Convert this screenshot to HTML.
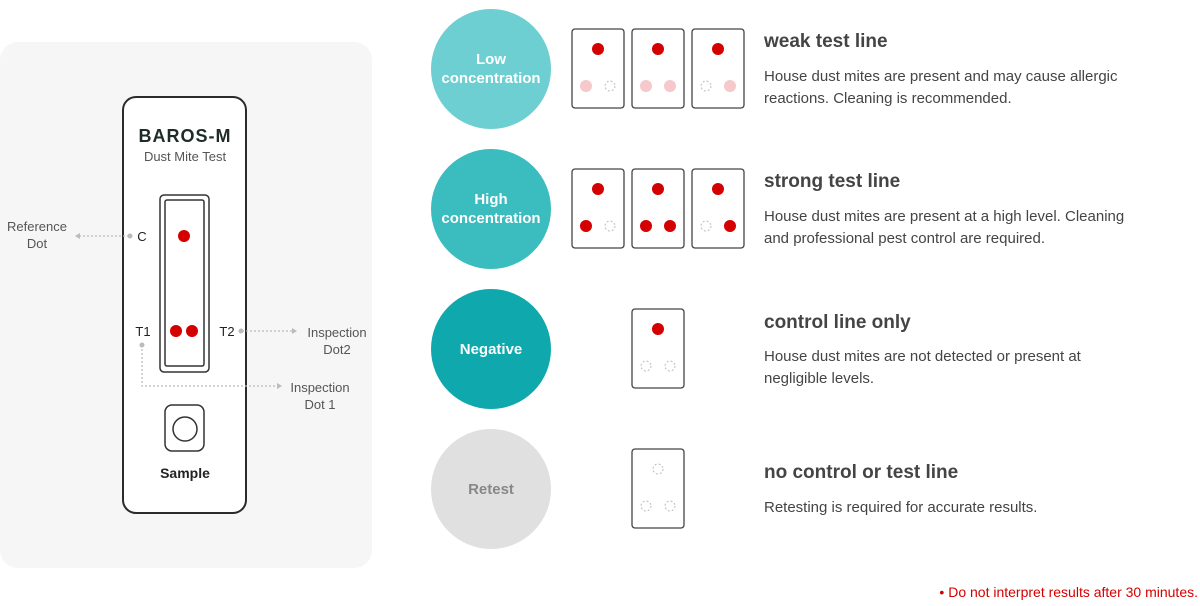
<!DOCTYPE html>
<html><head><meta charset="utf-8"><style>
body{margin:0;background:#fff;}
svg{display:block;font-family:"Liberation Sans",sans-serif;}
</style></head><body>
<svg width="1200" height="606" viewBox="0 0 1200 606" xmlns="http://www.w3.org/2000/svg">
<defs>
<g id="empty"><circle r="5" fill="none" stroke="#bbb" stroke-width="1" stroke-dasharray="2 2"/></g>
</defs>
<rect x="0" y="42" width="372" height="526" rx="18" fill="#f6f6f6"/>
<rect x="123" y="97" width="123" height="416" rx="13" fill="#fff" stroke="#2b2b2b" stroke-width="2"/>
<text x="185" y="142" text-anchor="middle" font-size="18" font-weight="bold" fill="#1f2b28" letter-spacing="1">BAROS-M</text>
<text x="185" y="161" text-anchor="middle" font-size="13" fill="#555">Dust Mite Test</text>
<rect x="160" y="195" width="49" height="177" rx="4" fill="#fff" stroke="#333" stroke-width="1.5"/>
<rect x="165" y="200" width="39" height="166" rx="2" fill="#fff" stroke="#333" stroke-width="1.5"/>
<circle cx="184" cy="236" r="6" fill="#d40000"/>
<circle cx="176" cy="331" r="6" fill="#d40000"/>
<circle cx="192" cy="331" r="6" fill="#d40000"/>
<text x="142" y="241" text-anchor="middle" font-size="13" fill="#222">C</text>
<text x="143" y="336" text-anchor="middle" font-size="13" fill="#222">T1</text>
<text x="227" y="336" text-anchor="middle" font-size="13" fill="#222">T2</text>
<g stroke="#bbb" stroke-width="1.2" stroke-dasharray="2 2" fill="none">
<line x1="129" y1="236" x2="80" y2="236"/>
<line x1="242" y1="331" x2="292" y2="331"/>
<polyline points="142,345 142,386 277,386"/>
</g>
<g fill="#bbb">
<circle cx="130" cy="236" r="2.5"/><polygon points="75,236 80,233 80,239"/>
<circle cx="241" cy="331" r="2.5"/><polygon points="297,331 292,328 292,334"/>
<circle cx="142" cy="345" r="2.5"/><polygon points="282,386 277,383 277,389"/>
</g>
<g font-size="13" fill="#555" text-anchor="middle">
<text x="37" y="231">Reference</text><text x="37" y="248">Dot</text>
<text x="337" y="337">Inspection</text><text x="337" y="354">Dot2</text>
<text x="320" y="392">Inspection</text><text x="320" y="409">Dot 1</text>
</g>
<rect x="165" y="405" width="39" height="46" rx="7" fill="#fff" stroke="#333" stroke-width="1.5"/>
<circle cx="185" cy="429" r="12" fill="#fff" stroke="#333" stroke-width="1.5"/>
<text x="185" y="478" text-anchor="middle" font-size="14" font-weight="bold" fill="#222">Sample</text>

<circle cx="491" cy="69" r="60" fill="#6dcfd1"/>
<circle cx="491" cy="209" r="60" fill="#3bbcbf"/>
<circle cx="491" cy="349" r="60" fill="#0ea8ad"/>
<circle cx="491" cy="489" r="60" fill="#e0e0e0"/>
<g font-size="15" font-weight="bold" fill="#fff" text-anchor="middle">
<text x="491" y="64">Low</text><text x="491" y="83">concentration</text>
<text x="491" y="204">High</text><text x="491" y="223">concentration</text>
<text x="491" y="354">Negative</text>
<text x="491" y="494" fill="#888">Retest</text>
</g>

<g fill="#fff" stroke="#444" stroke-width="1.3">
<rect x="572" y="29" width="52" height="79" rx="3"/><rect x="632" y="29" width="52" height="79" rx="3"/><rect x="692" y="29" width="52" height="79" rx="3"/>
<rect x="572" y="169" width="52" height="79" rx="3"/><rect x="632" y="169" width="52" height="79" rx="3"/><rect x="692" y="169" width="52" height="79" rx="3"/>
<rect x="632" y="309" width="52" height="79" rx="3"/>
<rect x="632" y="449" width="52" height="79" rx="3"/>
</g>
<g fill="#d40000">
<circle cx="598" cy="49" r="6"/><circle cx="658" cy="49" r="6"/><circle cx="718" cy="49" r="6"/>
<circle cx="598" cy="189" r="6"/><circle cx="658" cy="189" r="6"/><circle cx="718" cy="189" r="6"/>
<circle cx="586" cy="226" r="6"/><circle cx="646" cy="226" r="6"/><circle cx="670" cy="226" r="6"/><circle cx="730" cy="226" r="6"/>
<circle cx="658" cy="329" r="6"/>
</g>
<g fill="#f5c9cb">
<circle cx="586" cy="86" r="6"/><circle cx="646" cy="86" r="6"/><circle cx="670" cy="86" r="6"/><circle cx="730" cy="86" r="6"/>
</g>
<use href="#empty" x="610" y="86"/><use href="#empty" x="706" y="86"/>
<use href="#empty" x="610" y="226"/><use href="#empty" x="706" y="226"/>
<use href="#empty" x="646" y="366"/><use href="#empty" x="670" y="366"/>
<use href="#empty" x="658" y="469"/><use href="#empty" x="646" y="506"/><use href="#empty" x="670" y="506"/>

<g fill="#444">
<text x="764" y="47" font-size="19" font-weight="bold">weak test line</text>
<text x="764" y="81" font-size="15">House dust mites are present and may cause allergic</text>
<text x="764" y="103" font-size="15">reactions. Cleaning is recommended.</text>
<text x="764" y="187" font-size="19" font-weight="bold">strong test line</text>
<text x="764" y="221" font-size="15">House dust mites are present at a high level. Cleaning</text>
<text x="764" y="243" font-size="15">and professional pest control are required.</text>
<text x="764" y="328" font-size="19" font-weight="bold">control line only</text>
<text x="764" y="361" font-size="15">House dust mites are not detected or present at</text>
<text x="764" y="383" font-size="15">negligible levels.</text>
<text x="764" y="478" font-size="19" font-weight="bold">no control or test line</text>
<text x="764" y="512" font-size="15">Retesting is required for accurate results.</text>
</g>
<text x="1198" y="597" text-anchor="end" font-size="14" fill="#d40000">•  Do not interpret results after 30 minutes.</text>
</svg>
</body></html>
